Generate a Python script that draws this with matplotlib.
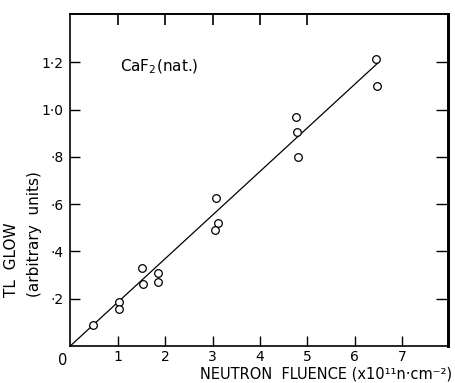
import matplotlib
matplotlib.use("Agg")
import matplotlib.pyplot as plt

fluence = [0.49, 1.03, 1.03, 1.51, 1.54, 1.86, 1.86, 3.07, 3.11, 3.06, 4.77, 4.78, 4.80, 6.44, 6.47]
glow = [0.089, 0.185, 0.157, 0.329, 0.262, 0.31, 0.272, 0.627, 0.519, 0.491, 0.971, 0.905, 0.798, 1.215, 1.10]
fit_x = [0.0, 6.5]
fit_y = [0.0, 1.2]
xticks = [1, 2, 3, 4, 5, 6, 7]
xtick_labels = ["1", "2", "3", "4", "5", "6", "7"]
yticks = [0.2, 0.4, 0.6, 0.8, 1.0, 1.2]
ytick_labels = ["·2", "·4", "·6", "·8", "1·0", "1·2"]
top_ticks = [1, 2, 3, 4, 5]

plt.rcParams['font.family'] = ['DejaVu Sans']
fig = plt.figure(figsize=(4.56, 3.83), dpi=100)
ax = fig.add_axes([0.154, 0.0966, 0.829, 0.8664])

ax.plot(fit_x, fit_y, color='black', lw=0.9)
ax.plot(fluence, glow, 'o', mfc='white', mec='black', ms=5.5, mew=0.9)

ax.set_xlim(0, 7.97)
ax.set_ylim(0, 1.404)

ax.set_xticks(xticks)
ax.set_xticklabels(xtick_labels, fontsize=10)
ax.set_yticks(yticks)
ax.set_yticklabels(ytick_labels, fontsize=10)
ax.tick_params(axis='x', direction='in', length=7, width=1, pad=3)
ax.tick_params(axis='y', direction='in', length=7, width=1, pad=5)

# top ticks
sec = ax.secondary_xaxis('top')
sec.set_xticks(top_ticks)
sec.set_xticklabels([])
sec.tick_params(direction='in', length=8, width=1.2)
# right ticks
secy = ax.secondary_yaxis('right')
secy.set_yticks(yticks)
secy.set_yticklabels([])
secy.tick_params(direction='in', length=9, width=1)

for s in ['left', 'bottom', 'top']:
    ax.spines[s].set_linewidth(1.2)
ax.spines['right'].set_linewidth(2.0)
sec.spines['top'].set_linewidth(1.2)
secy.spines['right'].set_linewidth(2.0)

ax.text(-0.15, -0.06, "0", fontsize=10.5, ha='center', va='center', transform=ax.transData, clip_on=False)
ax.text(1.01, -0.108, "NEUTRON  FLUENCE (x10¹¹n·cm⁻²)", fontsize=10.5,
        ha='right', va='bottom', transform=ax.transAxes)
ax.text(1.05, 1.18, "CaF$_2$(nat.)", fontsize=11, ha='left', va='center')

fig.text(0.026, 0.225, "TL  GLOW", rotation=90, fontsize=11, ha='center', va='bottom')
fig.text(0.075, 0.225, "(arbitrary  units)", rotation=90, fontsize=11, ha='center', va='bottom')

fig.savefig("out.png", dpi=100)
